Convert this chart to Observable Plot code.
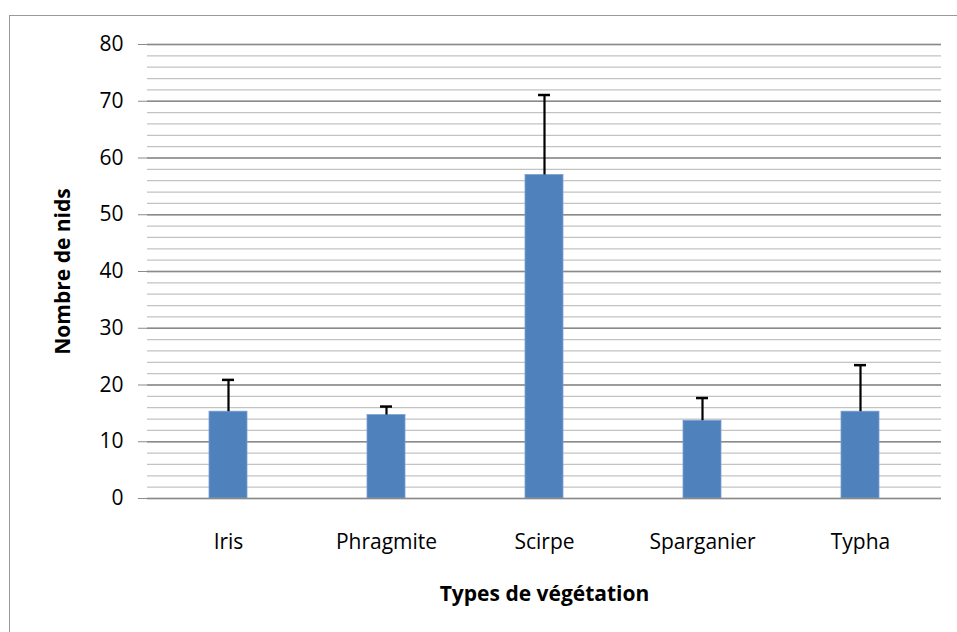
<!DOCTYPE html>
<html>
<head>
<meta charset="utf-8">
<script src="https://cdn.jsdelivr.net/npm/d3@7"></script>
<script src="https://cdn.jsdelivr.net/npm/@observablehq/plot@0.6"></script>
<style>
  html, body { margin: 0; padding: 0; background: #fff; overflow: hidden; }
  #wrap { position: relative; width: 957px; height: 632px; }
  #border { position: absolute; left: 9px; top: 15px; width: 1000px; height: 1000px;
            border: 1.5px solid #9a9a9a; pointer-events: none; box-sizing: border-box; }
</style>
</head>
<body>
<div id="wrap"><div id="border"></div></div>
<script>
const categories = ["Iris", "Phragmite", "Scirpe", "Sparganier", "Typha"];
const means = [15.3, 14.7, 57.0, 13.7, 15.3];
const errors = [5.6, 1.5, 14.1, 4.0, 8.2];
const majorTicks = [0, 10, 20, 30, 40, 50, 60, 70, 80];
const minorTicks = d3.range(0, 81, 2);

const data = categories.map((c, i) => ({cat: c, mean: means[i], top: means[i] + errors[i]}));

const font = "'Open Sans', sans-serif";

const chart = Plot.plot({
  width: 957,
  height: 632,
  marginLeft: 147,
  marginRight: 16,
  marginTop: 44,
  marginBottom: 134,
  style: {fontFamily: font, fontSize: "21px", color: "#000", background: "transparent"},
  x: {domain: categories, padding: 0},
  y: {domain: [0, 80]},
  marks: [
    Plot.ruleY(minorTicks, {stroke: "#c3c3c3", strokeWidth: 1.3, strokeOpacity: 1}),
    Plot.ruleY(majorTicks.filter(d => d > 0), {stroke: "#8a8a8a", strokeWidth: 1.4, strokeOpacity: 1}),
    Plot.barY(data, {x: "cat", y: "mean", fill: "#4f81bd", stroke: "#7aa0d0", strokeWidth: 0.8, insetLeft: 60, insetRight: 60}),
    Plot.ruleX(data, {x: "cat", y1: "mean", y2: "top", stroke: "#000", strokeWidth: 2.2}),
    Plot.tickY(data, {x: "cat", y: "top", stroke: "#000", strokeWidth: 2.5, insetLeft: 73, insetRight: 73}),
    Plot.ruleY([0], {stroke: "#8a8a8a", strokeWidth: 1.6}),
    Plot.ruleX([categories[0]], {x: () => 0, stroke: "#8a8a8a", strokeWidth: 1.6}),
    Plot.axisY({ticks: majorTicks, tickSize: 9, tickPadding: 15, stroke: "#8a8a8a", tickFormat: d => String(d),
      fontSize: 21,
      label: "Nombre de nids", labelAnchor: "center", labelArrow: "none", labelOffset: 92}),
    Plot.axisX({tickSize: 0, tickPadding: 36, fontSize: 21,
      label: "Types de végétation", labelAnchor: "center", labelArrow: "none", labelOffset: 102})
  ]
});

d3.select(chart).selectAll("[aria-label='y-axis label'] text, [aria-label='x-axis label'] text")
  .attr("font-weight", "bold").attr("font-size", "21px");

document.getElementById("wrap").prepend(chart);
</script>
</body>
</html>
